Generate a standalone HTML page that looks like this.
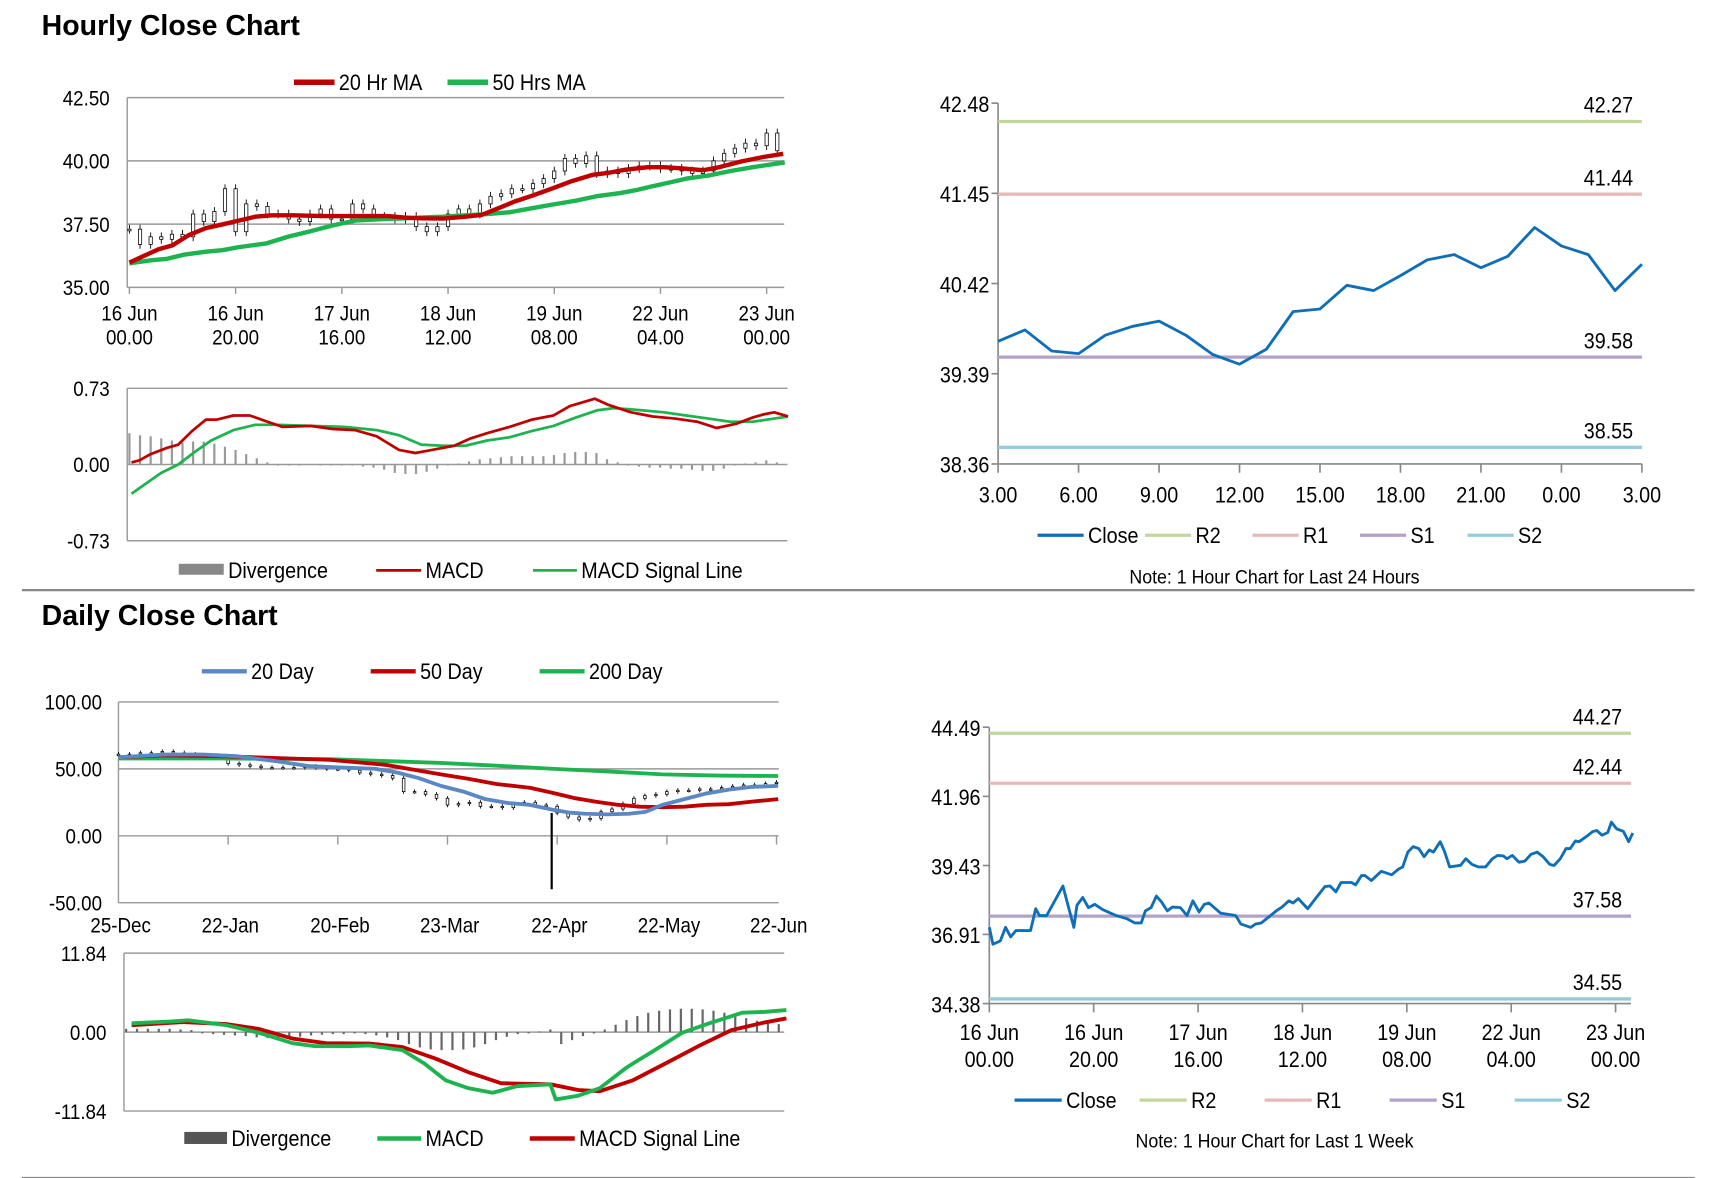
<!DOCTYPE html>
<html><head><meta charset="utf-8"><style>
html,body{margin:0;padding:0;background:#fff;}
svg{display:block;}
text{font-family:"Liberation Sans Narrow","Liberation Sans",sans-serif;fill:#000;}
.t{font-family:"Liberation Sans",sans-serif;font-weight:bold;}
</style></head><body>
<svg id="s" width="1711" height="1178" viewBox="0 0 1560 1074" xmlns="http://www.w3.org/2000/svg"></svg>
<script>
// ---------- Hourly candle/MA chart data ----------
const hCandleHours=[0,2,4,6,8,10,12,14,16,18,20,22,24,26,28,30,32,34,36,38,40,42,44,46,48,50,52,54,56,58,60,62,64,66,68,70,72,74,76,78,80,82,84,86,88,90,92,94,96,98,100,102,104,106,108,110,112,114,116,118,120,122];
const hCloses=[37.3,36.7,37.0,36.9,37.1,37.0,37.9,37.6,38.0,38.9,37.2,38.3,38.2,37.9,37.9,37.7,37.6,37.9,38.1,37.7,37.7,38.3,38.1,37.8,37.8,37.7,37.8,37.4,37.2,37.4,37.9,38.1,37.9,38.3,38.6,38.7,38.9,38.9,39.1,39.3,39.6,40.1,39.9,40.2,39.5,39.6,39.5,39.7,39.8,39.8,39.7,39.7,39.6,39.5,39.6,40.0,40.3,40.5,40.7,40.6,41.1,40.4];
const hMa20Hours=[0,2.9,5.5,8.1,11.2,14.4,17.5,20.6,23.7,26.8,31,36.2,42.5,48.7,51.8,54.9,59.1,63.3,66.4,69.5,72.6,75.8,79.9,83,87.2,90.3,93.4,97.6,100.7,103.9,108,111.1,115.3,119.5,123.1];
const hMa20=[35.98,36.26,36.51,36.66,37.07,37.34,37.49,37.64,37.79,37.85,37.85,37.82,37.82,37.82,37.76,37.73,37.72,37.79,37.87,38.13,38.40,38.62,38.93,39.18,39.45,39.53,39.65,39.75,39.75,39.71,39.63,39.75,39.98,40.16,40.28];
const hMa50Hours=[0,4,7.1,10.2,14.4,17.5,20.6,25.8,30,34.1,38.3,42.5,46.6,50.8,54.9,59.1,63.3,67.4,71.6,75.8,79.9,84.1,88.2,92.4,95.5,98.6,101.8,104.9,109.1,113.2,117.4,123.4];
const hMa50=[35.95,36.07,36.13,36.29,36.41,36.47,36.59,36.74,37.01,37.22,37.45,37.64,37.69,37.72,37.76,37.79,37.85,37.90,37.97,38.13,38.28,38.43,38.61,38.73,38.85,39.00,39.15,39.30,39.42,39.60,39.75,39.94];
const hXTicks1=["16 Jun","16 Jun","17 Jun","18 Jun","19 Jun","22 Jun","23 Jun"];
const hXTicks2=["00.00","20.00","16.00","12.00","08.00","04.00","00.00"];
const hYTicks=[35,37.5,40,42.5];
// hourly MACD
const hMacdHours=[0.4,1.9,4,7.1,9.2,11.8,14.4,16.4,19.6,22.7,25.4,28.9,34.1,38.3,42.5,46.6,50.8,53.9,57,61.2,64.3,67.4,71.6,75.8,79.9,83,87.7,90.3,94.5,98.6,102.8,107,110.6,114.3,117.4,119.5,121.5,124.1];
const hMacd=[0.02,0.04,0.10,0.16,0.19,0.32,0.43,0.43,0.47,0.47,0.42,0.36,0.37,0.34,0.33,0.27,0.14,0.11,0.14,0.18,0.25,0.30,0.36,0.43,0.47,0.56,0.63,0.57,0.50,0.46,0.44,0.41,0.35,0.39,0.45,0.48,0.50,0.46];
const hSigHours=[0.4,2.9,6,9.2,12.3,15.4,19.6,23.7,27.9,34.1,40.4,46.6,50.8,55,59.1,63.3,67.4,71.6,75.8,79.9,84.1,88.2,91.3,96.5,100.7,104.9,109.1,113.2,117.4,121.5,124.1];
const hSig=[-0.28,-0.19,-0.08,0,0.12,0.23,0.33,0.38,0.38,0.37,0.36,0.33,0.28,0.19,0.18,0.18,0.23,0.26,0.32,0.37,0.45,0.52,0.54,0.52,0.50,0.47,0.44,0.41,0.41,0.44,0.46];
const hDiv=[0.30,0.28,0.27,0.25,0.23,0.21,0.22,0.22,0.20,0.17,0.14,0.10,0.06,0.02,-0.01,-0.01,-0.01,0,-0.01,-0.01,-0.01,-0.01,-0.02,-0.03,-0.05,-0.08,-0.09,-0.09,-0.07,-0.04,-0.01,0.01,0.03,0.05,0.06,0.07,0.08,0.08,0.08,0.08,0.09,0.11,0.12,0.12,0.11,0.05,0.02,-0.01,-0.02,-0.03,-0.03,-0.04,-0.04,-0.05,-0.06,-0.06,-0.04,-0.01,0.01,0.02,0.04,0.02];
// ---------- 24h pivot chart ----------
const dayHours=["3.00","6.00","9.00","12.00","15.00","18.00","21.00","0.00","3.00"];
const dayClose=[39.76,39.89,39.65,39.62,39.83,39.93,39.99,39.83,39.61,39.50,39.67,40.10,40.13,40.40,40.34,40.51,40.69,40.75,40.60,40.73,41.06,40.85,40.75,40.34,40.64];
const dayLevels=[42.27,41.44,39.58,38.55];
const dayYTicks=[38.36,39.39,40.42,41.45,42.48];
// ---------- Weekly pivot chart ----------
const wkHours=[0,0.7,2.1,3.1,4.1,5.1,7.9,8.9,9.6,11,14.1,16.2,16.8,17.9,19,20.2,21.7,24.3,26.4,27.9,29.1,29.9,31,32,33,34.1,35.1,36.6,37.9,39,40.2,41.2,42.1,44.3,47.2,48.2,50.1,51,52.1,53.5,55.1,56.1,57.4,58.2,59.2,61,62.8,64.3,65.3,66.4,67.4,69.4,70.2,71.3,72,73.2,75.1,77.1,78.4,79.2,80.2,81.2,82.3,83.3,84.3,85.1,86.4,87.2,88.2,90.3,91.3,92.5,93.7,95.1,96.4,97.4,98.5,99.2,100.2,101.5,102.6,103.8,105,106.1,107.4,108.2,109.4,110.5,111.3,112.3,113,114.6,115.6,116.4,117.4,118.5,119.2,120.2,121.5,122.5,123.3];
const wkClose=[37.17,36.55,36.67,37.17,36.82,37.05,37.05,37.85,37.60,37.60,38.68,37.17,37.98,38.26,37.89,38.01,37.82,37.60,37.48,37.33,37.33,37.77,37.89,38.31,38.10,37.77,37.91,37.89,37.60,38.14,37.73,38.01,38.06,37.69,37.60,37.29,37.17,37.29,37.33,37.54,37.79,37.91,38.14,38.06,38.22,37.85,38.29,38.66,38.68,38.47,38.81,38.81,38.72,39.06,39.06,38.88,39.22,39.09,39.30,39.38,39.92,40.12,40.05,39.75,40.00,39.92,40.30,39.96,39.38,39.44,39.68,39.47,39.38,39.38,39.68,39.80,39.78,39.68,39.80,39.55,39.59,39.84,39.92,39.75,39.47,39.43,39.68,40.05,40.05,40.33,40.30,40.52,40.67,40.71,40.54,40.64,41.02,40.77,40.68,40.30,40.62];
const wkLevels=[44.27,42.44,37.58,34.55];
const wkYTicks=[34.38,36.91,39.43,41.96,44.49];
// ---------- Daily chart ----------
const dXTicks=["25-Dec","22-Jan","20-Feb","23-Mar","22-Apr","22-May","22-Jun"];
const dYTicks=[-50,0,50,100];
const dCandleIdx=[0,2,4,6,8,10,12,14,16,18,20,22,24,26,28,30,32,34,36,38,40,42,44,46,48,50,52,54,56,58,60,62,64,66,68,70,72,74,76,78,80,82,84,86,88,90,92,94,96,98,100,102,104,106,108,110,112,114,116,118,120];
const dCloses=[61,61,62,62,63,62,61,60,60,59,54,53,52,51,51,51,51,52,51,50,50,49,47,46,45,43,33,33,31,28,23,24,25,22,22,21,24,25,23,22,17,14,12,13,18,20,24,28,30,31,33,34,34,35,35,36,37,38,38,39,40];
const dSpikeIdx=79, dSpikeLow=-40;
const d20Idx=[0,8.4,15.4,21.5,28.6,34.6,40.7,46.7,50.8,54.8,58.8,62.9,66.9,71,75,79,82.1,85.1,89.1,93.1,96.1,99.2,103.2,107.2,111.3,115.3,120.3];
const d20=[58.7,60.7,60.7,59.5,55.8,52.1,51.0,50.1,47.3,43.0,37.3,33.0,27.4,24.5,23.1,19.7,17.4,16.5,16.0,16.5,17.9,23.1,27.4,31.6,34.5,36.5,37.3];
const d50Idx=[0,8.4,18.5,28.6,38.6,48.7,54.8,58.8,63.9,68.9,75,79,83.1,87.1,91.1,95.1,99.2,103.2,107.2,111.3,115.3,120.3];
const d50=[58.7,60.1,59.5,58.1,56.7,53.0,48.7,45.9,42.5,38.7,35.9,32.2,28.2,25.4,23.1,21.7,21.4,21.7,23.1,23.6,25.4,27.4];
const d200Idx=[0,18.5,38.6,48.7,58.8,68.9,79,89.1,99.2,109.3,120.3];
const d200=[57.8,57.8,57.3,55.8,54.4,52.4,50.1,48.1,45.9,45.0,44.7];
const dmMacdIdx=[1,8.4,11.4,18.5,24.5,30.6,34.6,40.7,44.7,50.8,54.8,58.8,62.9,67.4,71.9,78,79,83.1,87.1,92.1,97.2,102.2,107.2,113.3,117.3,121.4];
const dmMacd=[1.31,1.6,1.77,1.03,-0.11,-1.66,-2.11,-2.11,-2.0,-2.69,-4.69,-7.26,-8.4,-9.09,-8.11,-7.83,-10.1,-9.54,-8.4,-5.26,-2.69,-0.11,1.31,2.91,3.03,3.31];
const dmSigIdx=[1,10.4,18.5,24.5,30.6,36.7,44.7,50.8,56.8,62.9,68.9,78,83.1,87.1,93.1,99.2,105.2,111.3,117.3,121.4];
const dmSig=[1.03,1.49,1.2,0.46,-0.97,-1.66,-1.71,-2.23,-3.94,-6.0,-7.66,-7.83,-8.69,-8.86,-7.26,-4.69,-2.11,0.29,1.43,2.06];
const dmDiv=[0.5,0.5,0.5,0.5,0.5,0.4,0.3,-0.2,-0.3,-0.4,-0.5,-0.6,-0.8,-0.9,-1,-0.9,-0.7,-0.5,-0.4,-0.3,-0.3,-0.2,-0.3,-0.5,-0.8,-1.2,-1.8,-2.3,-2.6,-2.7,-2.7,-2.6,-2.3,-1.8,-1.2,-0.7,-0.3,-0.2,0.1,0.4,-1.8,-1.2,-0.6,-0.2,0.4,1.1,1.8,2.4,2.9,3.2,3.4,3.5,3.5,3.4,3.2,2.9,2.5,2.1,1.7,1.4,1.2];

const S=document.getElementById('s');
const NS='http://www.w3.org/2000/svg';
function el(tag,attrs,parent){const e=document.createElementNS(NS,tag);for(const k in attrs)e.setAttribute(k,attrs[k]);(parent||S).appendChild(e);return e;}
function txt(x,y,str,size,anchor,name,parent,sx){const t=el('text',{x:0,y:0,'font-size':size,'text-anchor':anchor||'start',transform:'translate('+x+','+y+') scale('+(sx||0.9)+',1)'},parent);t.textContent=str;


return t;}
function line(x1,y1,x2,y2,stroke,w,name,parent){const l=el('line',{x1:x1,y1:y1,x2:x2,y2:y2,stroke:stroke,'stroke-width':w},parent);


return l;}
function lin(d0,d1,r0,r1){return v=>r0+(v-d0)*(r1-r0)/(d1-d0);}
function poly(xs,ys,fx,fy,stroke,w,name,parent){const p=xs.map((x,i)=>fx(x).toFixed(1)+','+fy(ys[i]).toFixed(1)).join(' ');
const e=el('polyline',{points:p,fill:'none',stroke:stroke,'stroke-width':w,'stroke-linejoin':'round'},parent);


return e;}
function grp(name){const g=el('g',{});


return g;}
function legendLine(x,y,color,w,label,name,parent,len){line(x,y,x+(len||40),y,color,w,name+'-swatch',parent);txt(x+(len||40)+4,y+7,label,20,'start',name+'-label',parent);}

// Titles and dividers
txt(38,32,'Hourly Close Chart',26,'start','hourly-title',null,1).setAttribute('class','t');
txt(38,570,'Daily Close Chart',26,'start','daily-title',null,1).setAttribute('class','t');
line(20,538,1545,538,'#888',2,'section-divider');
line(20,1074,1545,1074,'#888',2,'bottom-divider');

// ---------- Hourly candle chart ----------
(function(){
const g=grp('hourly-price-chart');
const X=lin(0,120,118,699), Y=lin(35,42.5,262,89);
hYTicks.forEach(v=>{ if(v>35) line(116,Y(v),715,Y(v),'#999',1.3,'gridline',g); txt(100,Y(v)+7,v.toFixed(2),19,'end','y-tick-label',g);});
line(116,89,116,262,'#999',1.3,'y-axis',g);
line(116,262,715,262,'#999',1.3,'x-axis',g);
hXTicks1.forEach((t,i)=>{const x=X(i*20);line(x,262,x,268,'#999',1.3,'x-tick',g);txt(x,292,t,19,'middle','x-tick-label',g);txt(x,314,hXTicks2[i],19,'middle','x-tick-label',g);});
hCloses.forEach((c,i)=>{const o=i>0?hCloses[i-1]:c;const x=X(hCandleHours[i]);const hi=Math.max(o,c),lo=Math.min(o,c);
line(x,Y(hi)-4,x,Y(lo)+4,'#000',0.8,'candle-wick',g);
const r=el('rect',{x:x-1.5,y:Y(hi),width:3,height:Math.max(1.5,Y(lo)-Y(hi)),fill:'#fff',stroke:'#000','stroke-width':0.7},g);

});
poly(hMa50Hours,hMa50,X,Y,'#1db34f',4,'ma-50-line',g);
poly(hMa20Hours,hMa20,X,Y,'#c00000',4,'ma-20-line',g);
const lg=grp('hourly-price-legend');
legendLine(268,75,'#c00000',5,'20 Hr MA','legend-ma20',lg,37);
legendLine(408,75,'#1db34f',5,'50 Hrs MA','legend-ma50',lg,37);
})();

// ---------- Hourly MACD ----------
(function(){
const g=grp('hourly-macd-chart');
const X=lin(0,124,118,718), Y=lin(-0.73,0.73,493,354);
[-0.73,0,0.73].forEach(v=>{line(116,Y(v),718,Y(v),'#999',1.3,'gridline',g);txt(100,Y(v)+7,v.toFixed(2),19,'end','y-tick-label',g);});
line(116,354,116,493,'#999',1.3,'y-axis',g);
hDiv.forEach((d,i)=>{const x=X(i*2);const y0=Y(0),y1=Y(d);
const r=el('rect',{x:x-1,y:Math.min(y0,y1),width:2,height:Math.abs(y1-y0),fill:'#999'},g);

});
poly(hSigHours,hSig,X,Y,'#1db34f',2.5,'macd-signal-line',g);
poly(hMacdHours,hMacd,X,Y,'#c00000',2.5,'macd-line',g);
const lg=grp('hourly-macd-legend');
const b=el('rect',{x:163,y:514,width:41,height:10,fill:'#888'},lg);


txt(208,527,'Divergence',20,'start','legend-divergence-label',lg);
legendLine(343,520,'#c00000',2.5,'MACD','legend-macd',lg,41);
legendLine(486,520,'#1db34f',2.5,'MACD Signal Line','legend-signal',lg,40);
})();

// ---------- Pivot charts ----------
function pivot(name,x0,x1,yTicks,yTop,yBot,levels,xs,vals,xFn,xLabels,xLab2,labelY,legendY,note,noteY,legendX,xLast){
const g=grp(name);
const Y=lin(yTicks[0],yTicks[yTicks.length-1],yBot,yTop);
const cols=['#c3d69b','#e6b9b8','#b3a2c7','#93cddd'];
line(x0,yTop,x0,yBot,'#888',1.5,'y-axis',g);
line(x0,yBot,x1,yBot,'#888',1.5,'x-axis',g);
yTicks.forEach(v=>{line(x0-6,Y(v),x0,Y(v),'#888',1.5,'y-tick',g);txt(x0-8,Y(v)+8,v.toFixed(2),20,'end','y-tick-label',g);});
levels.forEach((v,i)=>{line(x0,Y(v),x1,Y(v),cols[i],3,['r2','r1','s1','s2'][i]+'-line',g);txt(x1-8,Y(v)-8,v.toFixed(2),20,'end',['r2','r1','s1','s2'][i]+'-value-label',g);});
xLabels.forEach((t,i)=>{const x=x0+(xLast-x0)*i/(xLabels.length-1);
line(x,yBot,x,yBot+8,'#888',1.5,'x-tick',g);
txt(x,labelY,t,20,'middle','x-tick-label',g);
if(xLab2) txt(x,labelY+25,xLab2[i],20,'middle','x-tick-label',g);});
poly(xs,vals,xFn,Y,'#0e6eb8',2.6,'close-line',g);
const lg=grp(name+'-legend');
const names=['Close','R2','R1','S1','S2'];const lc=['#0e6eb8'].concat(cols);
names.forEach((n,i)=>{const x=legendX+i*(name==='day-pivot-chart'?98:114);legendLine(x,legendY,lc[i],3,n,'legend-'+n.toLowerCase(),lg,(name==='day-pivot-chart'?42:43));});
txt(1162,noteY,note,18,'middle','chart-note',g);
}
pivot('day-pivot-chart',910,1497,dayYTicks,94,423,dayLevels,dayClose.map((_,i)=>i),dayClose,lin(0,24,910,1497),dayHours,null,458,488,'Note: 1 Hour Chart for Last 24 Hours',532,946,1497);
pivot('week-pivot-chart',902,1487,wkYTicks,663,915,wkLevels,wkHours,wkClose,lin(0,120,902,1473),hXTicks1,hXTicks2,948,1003,'Note: 1 Hour Chart for Last 1 Week',1046,925,1473);

// ---------- Daily chart ----------
(function(){
const g=grp('daily-price-chart');
const X=lin(0,120,108,708), Y=lin(-50,100,823,640);
dYTicks.forEach(v=>{line(108,Y(v),710,Y(v),'#999',1.3,'gridline',g);txt(93,Y(v)+7,v.toFixed(2),19,'end','y-tick-label',g);});
line(108,640,108,823,'#999',1.3,'y-axis',g);
dXTicks.forEach((t,i)=>{const x=X(i*20);if(i>0)line(x,Y(0),x,Y(0)+8,'#999',1.3,'x-tick',g);txt(x+2,850,t,19,'middle','x-tick-label',g);});
dCloses.forEach((c,i)=>{const o=i>0?dCloses[i-1]:c;const x=X(dCandleIdx[i]);const hi=Math.max(o,c),lo=Math.min(o,c);
line(x,Y(hi)-2,x,Y(lo)+2,'#000',0.8,'candle-wick',g);
const r=el('rect',{x:x-1.2,y:Y(hi),width:2.4,height:Math.max(1.2,Y(lo)-Y(hi)),fill:'#fff',stroke:'#000','stroke-width':0.7},g);

});
line(X(dSpikeIdx),Y(dCloses[40]),X(dSpikeIdx),Y(dSpikeLow),'#000',2,'spike-wick',g);
poly(d200Idx,d200,X,Y,'#1db34f',3.5,'ma-200-line',g);
poly(d50Idx,d50,X,Y,'#c00000',3.5,'ma-50-line',g);
poly(d20Idx,d20,X,Y,'#5b87c5',3.5,'ma-20-line',g);
const lg=grp('daily-price-legend');
legendLine(184,612,'#5b87c5',4,'20 Day','legend-20day',lg,41);
legendLine(338,612,'#c00000',4,'50 Day','legend-50day',lg,41);
legendLine(492,612,'#1db34f',4,'200 Day','legend-200day',lg,41);
})();

// ---------- Daily MACD ----------
(function(){
const g=grp('daily-macd-chart');
const X=lin(0,121,115,715), Y=lin(-11.84,11.84,1013,869);
[-11.84,0,11.84].forEach(v=>{line(113,Y(v),715,Y(v),'#999',1.3,'gridline',g);txt(97,Y(v)+7,v.toFixed(2),19,'end','y-tick-label',g);});
line(113,869,113,1013,'#999',1.3,'y-axis',g);
dmDiv.forEach((d,i)=>{const x=X(i*2);const y0=Y(0),y1=Y(d);
const r=el('rect',{x:x-1,y:Math.min(y0,y1),width:2,height:Math.max(0.8,Math.abs(y1-y0)),fill:'#666'},g);

});
poly(dmSigIdx,dmSig,X,Y,'#c00000',3.5,'macd-signal-line',g);
poly(dmMacdIdx,dmMacd,X,Y,'#1db34f',3.5,'macd-line',g);
const lg=grp('daily-macd-legend');
const b=el('rect',{x:168,y:1032,width:39,height:11,fill:'#555'},lg);


txt(211,1045,'Divergence',20,'start','legend-divergence-label',lg);
legendLine(344,1038,'#1db34f',4,'MACD','legend-macd',lg,40);
legendLine(483,1038,'#c00000',4,'MACD Signal Line','legend-signal',lg,41);
})();
</script>
</body></html>
